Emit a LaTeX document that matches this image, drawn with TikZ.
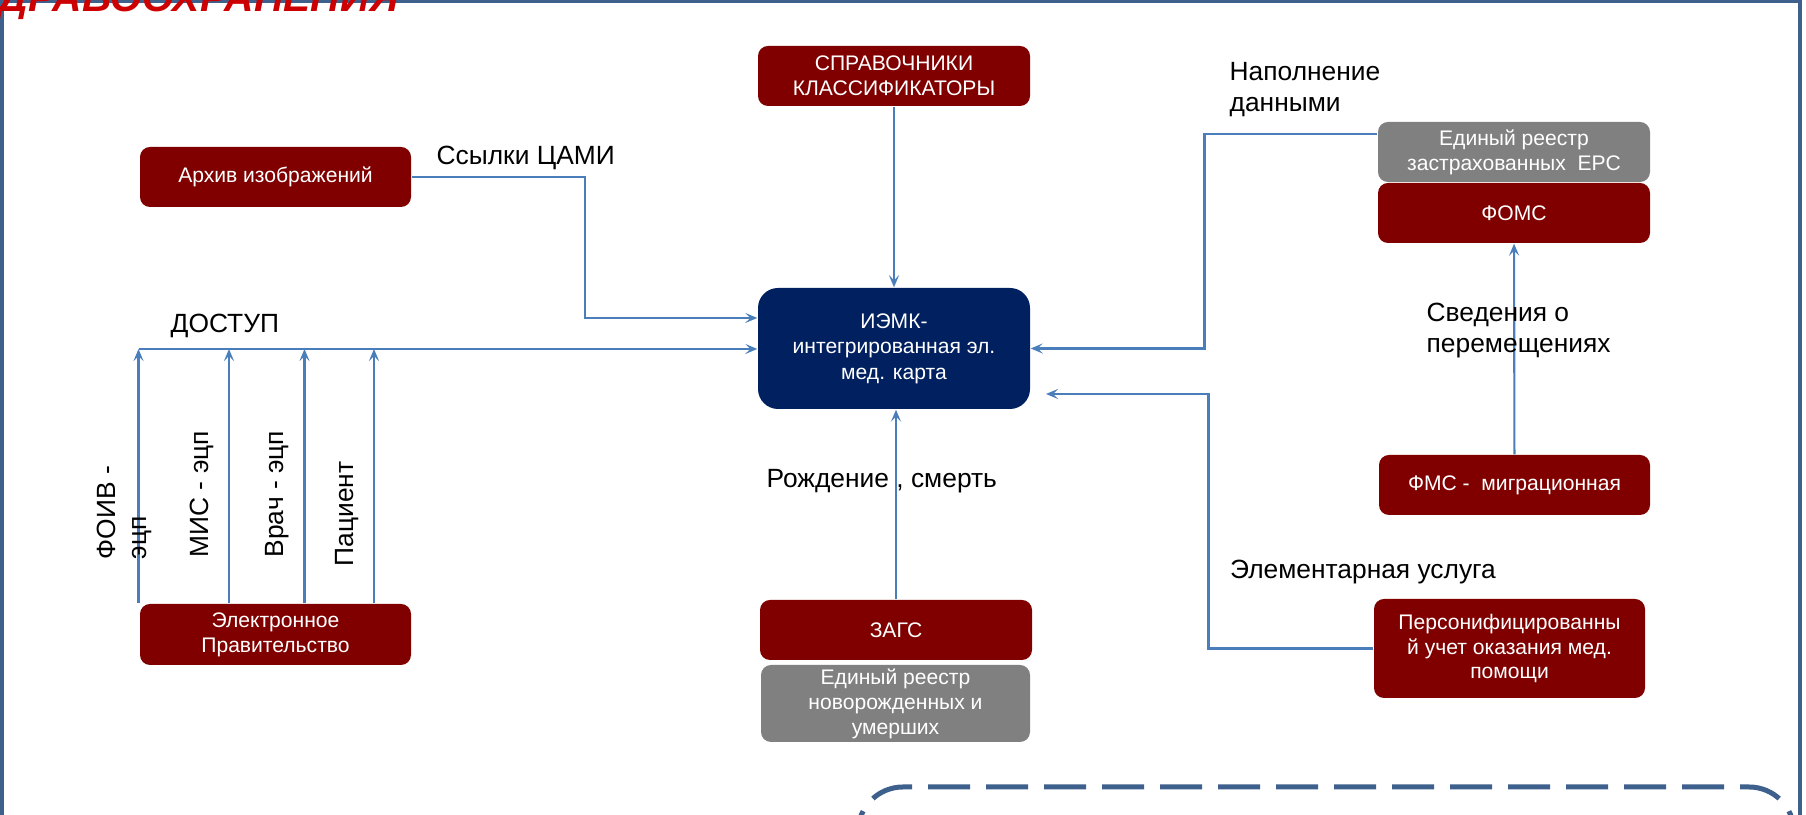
\documentclass[tikz,border=0pt]{standalone}
\usepackage{fontspec}
\setmainfont{Liberation Sans}
\usetikzlibrary{arrows.meta}
\definecolor{boxred}{RGB}{128,0,0}
\definecolor{boxgrey}{RGB}{128,128,128}
\definecolor{boxnavy}{RGB}{0,32,96}
\definecolor{linkblue}{RGB}{74,126,187}
\definecolor{frameblue}{RGB}{62,96,140}
\definecolor{titlered}{RGB}{204,0,0}
\newcommand{\boxfont}{\fontsize{6}{7.1}\selectfont}
\newcommand{\lblfont}{\fontsize{7.5}{9}\selectfont}

\begin{document}
\begin{tikzpicture}[
    redbox/.style={rectangle,rounded corners=0.1cm,fill=boxred,text=white,minimum width=2.72cm,minimum height=0.6cm,inner sep=0pt,align=center,font=\boxfont},
    greybox/.style={redbox,fill=boxgrey},
    lbl/.style={inner sep=0pt,align=left,font=\lblfont},
    link/.style={linkblue,line width=0.6pt,-{Stealth[length=0.12cm,width=0.1cm,inset=0.05cm]}}
  ]
            \useasboundingbox (0,0) rectangle (18.06,8.15);
            \clip (0,0) rectangle (18.06,8.15);
            % slide frame and title
            \draw[frameblue,line width=0.04cm] (0.02,-0.5)--(0.02,8.135)--(18.00,8.135)--(18.00,-0.5);
            \node[anchor=base east,inner sep=0pt,text=titlered,font=\fontsize{11.6}{13}\selectfont\bfseries\itshape] (title) at (4.0,8.03) {ЗДРАВООХРАНЕНИЯ};
            % boxes
            \node[redbox] (spr) at (8.94,7.39) {СПРАВОЧНИКИ\\КЛАССИФИКАТОРЫ};
            \node[redbox,minimum width=2.71cm] (arch) at (2.755,6.38) {Архив изображений};
            \node[redbox,fill=boxnavy,minimum height=1.21cm,rounded corners=0.2cm,font=\fontsize{6}{7.3}\selectfont] (iemk) at (8.94,4.665) {ИЭМК-\\интегрированная эл.\\мед. карта};
            \node[redbox,minimum width=2.71cm,minimum height=0.61cm] (egov) at (2.755,1.805) {Электронное\\Правительство};
            \node[redbox] (zags) at (8.96,1.85) {ЗАГС};
            \node[greybox,minimum width=2.69cm,minimum height=0.77cm] (nreg) at (8.955,1.115) {Единый реестр\\новорожденных и\\умерших};
            \node[greybox] (ers) at (15.14,6.63) {Единый реестр\\застрахованных\ \ ЕРС};
            \node[redbox] (foms) at (15.14,6.02) {ФОМС};
            \node[redbox,minimum width=2.71cm] (fms) at (15.145,3.30) {ФМС -\ \ миграционная};
            \node[redbox,minimum width=2.71cm,minimum height=0.99cm] (pers) at (15.095,1.665) {Персонифицированны\\й учет оказания мед.\\помощи};
            % connectors
            \draw[link] (spr) -- (iemk);
            \coordinate (cami) at (5.85,4.97);
            \draw[link] (arch.east) -| (cami) -- (cami -| iemk.west);
            \coordinate (bus) at (1.385,4.66);
            \draw[link] (bus) -- (bus -| iemk.west);
            \foreach \x [count=\i] in {1.385,2.29,3.045,3.74}{
                \coordinate (up\i) at (\x,4.66);
                \draw[link] (egov.north -| up\i) -- (up\i);
            }
            \coordinate (fill) at (12.045,6.81);
            \draw[link] (fill -| ers.west) -- (fill) |- (iemk.east);
            \draw[link] (fms) -- (foms);
            \coordinate (usl) at (12.085,4.21);
            \coordinate (uslend) at (10.46,4.21);
            \draw[link] (pers.west) -| (usl) -- (uslend);
            \draw[link] (zags.north) -- (zags.north |- iemk.south);
            % labels
            \node[lbl,anchor=base west] (camil) at (4.36,6.50) {Ссылки ЦАМИ};
            \node[lbl,anchor=base west] (dostup) at (1.70,4.82) {ДОСТУП};
            \node[lbl,anchor=base west] (napoln) at (12.29,7.03) {Наполнение\\данными};
            \node[lbl,anchor=base west] (sved) at (14.26,4.62) {Сведения о\\перемещениях};
            \node[lbl,anchor=base west] (elem) at (12.295,2.36) {Элементарная услуга};
            \node[lbl,anchor=base west] (rozhd) at (7.66,3.27) {Рождение , смерть};
            \node[lbl,rotate=90,anchor=base west] (foiv) at (1.47,2.55) {ФОИВ -\\эцп};
            \node[lbl,rotate=90,anchor=base west] (mis) at (2.085,2.57) {МИС - эцп};
            \node[lbl,rotate=90,anchor=base west] (vrach) at (2.83,2.57) {Врач - эцп};
            \node[lbl,rotate=90,anchor=base west] (pac) at (3.54,2.48) {Пациент};
            % dashed callout at the bottom
            \draw[frameblue,line width=0.05cm,dash pattern=on 0.42cm off 0.16cm,dash phase=0.103cm,rounded corners=0.45cm] (8.58,-0.85) -- (8.58,0.28) -- (17.94,0.28) -- (17.94,-0.85);
        \end{tikzpicture}
\end{document}
